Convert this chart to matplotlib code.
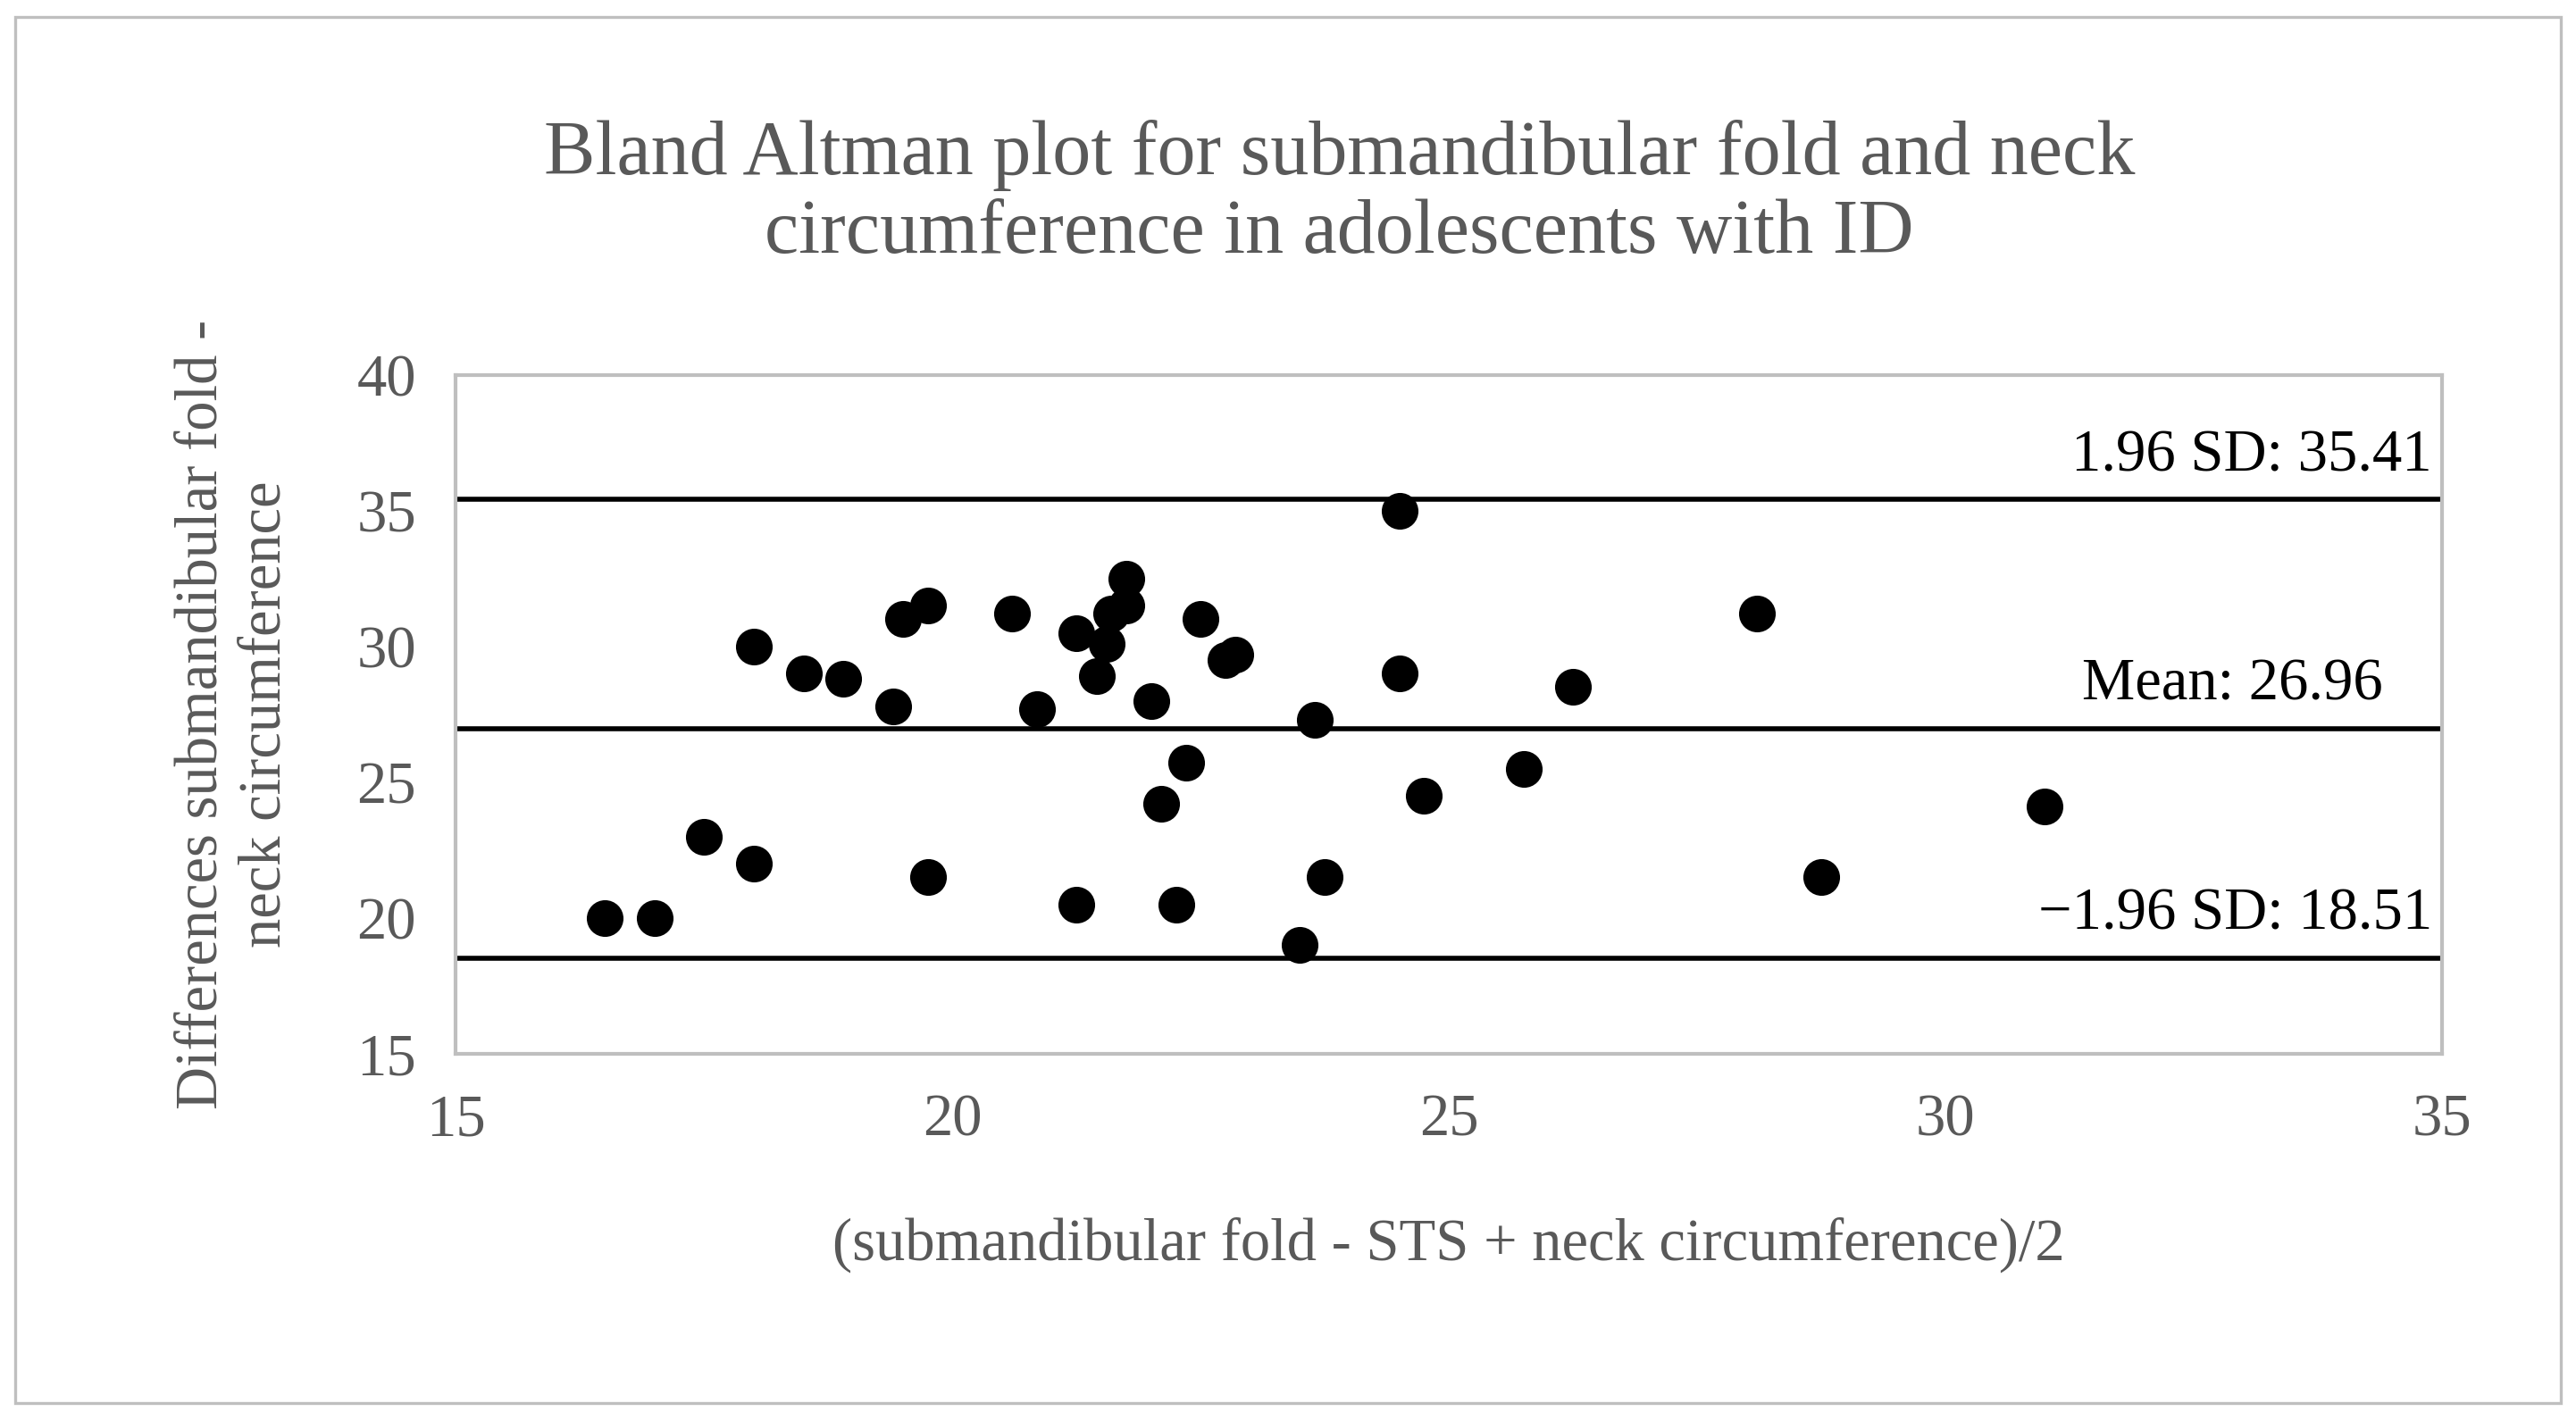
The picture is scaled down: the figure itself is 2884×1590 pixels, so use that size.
import matplotlib
matplotlib.use("Agg")
import matplotlib.pyplot as plt
from matplotlib.patches import Rectangle

x_vals = [16.5,17.0,17.5,18.0,18.0,18.5,18.9,19.4,19.5,19.75,19.75,20.6,20.85,21.25,21.25,21.45,21.55,21.6,21.75,21.75,
          22.0,22.1,22.25,22.35,22.5,22.75,22.85,23.5,23.65,23.75,24.5,24.5,24.75,25.75,26.25,28.1,28.75,31.0]
y_vals = [20.0,20.0,23.0,22.0,30.0,29.0,28.8,27.8,31.0,31.5,21.5,31.2,27.7,30.5,20.5,28.9,30.1,31.2,31.5,32.5,
          28.0,24.2,20.5,25.7,31.0,29.5,29.7,19.0,27.3,21.5,35.0,29.0,24.5,25.5,28.5,31.2,21.5,24.1]
line_vals = [35.41, 26.96, 18.51]
line_labels = ["1.96 SD: 35.41", "Mean: 26.96", "\u22121.96 SD: 18.51"]

plt.rcParams['font.family'] = ['Liberation Serif', 'DejaVu Serif']
grey = '#595959'
fig = plt.figure(figsize=(14.42, 7.95), dpi=200)
fig.patches.append(Rectangle((0.006, 0.012), 0.988, 0.976, transform=fig.transFigure,
                             fill=False, edgecolor='#bfbfbf', linewidth=1.2))
ax = fig.add_axes([0.177, 0.258, 0.771, 0.478])
ax.scatter(x_vals, y_vals, s=190, color='black', zorder=3)
offsets = [0.6, 0.6, 0.6]
xpos = [34.9, 34.4, 34.9]
for v, lab, xp in zip(line_vals, line_labels, xpos):
    ax.axhline(v, color='black', linewidth=2)
    ax.text(xp, v + 0.6, lab, ha='right', va='bottom', fontsize=24, color='black')
ax.set_xlim(15, 35)
ax.set_ylim(15, 40)
ax.set_xticks(range(15, 36, 5))
ax.set_yticks(range(15, 41, 5))
for s in ax.spines.values():
    s.set_color('#bfbfbf'); s.set_linewidth(1.5)
ax.tick_params(length=0, labelsize=24, colors=grey, pad=16)
ax.set_xlabel("(submandibular fold - STS + neck circumference)/2", fontsize=24, color=grey, labelpad=28)
ax.set_ylabel("Differences submandibular fold -\nneck circumference", fontsize=24, color=grey, labelpad=26)
fig.text(0.52, 0.863, "Bland Altman plot for submandibular fold and neck\ncircumference in adolescents with ID",
         ha='center', va='center', fontsize=31, color=grey, linespacing=1.15)
fig.savefig("out.png", dpi=200)
